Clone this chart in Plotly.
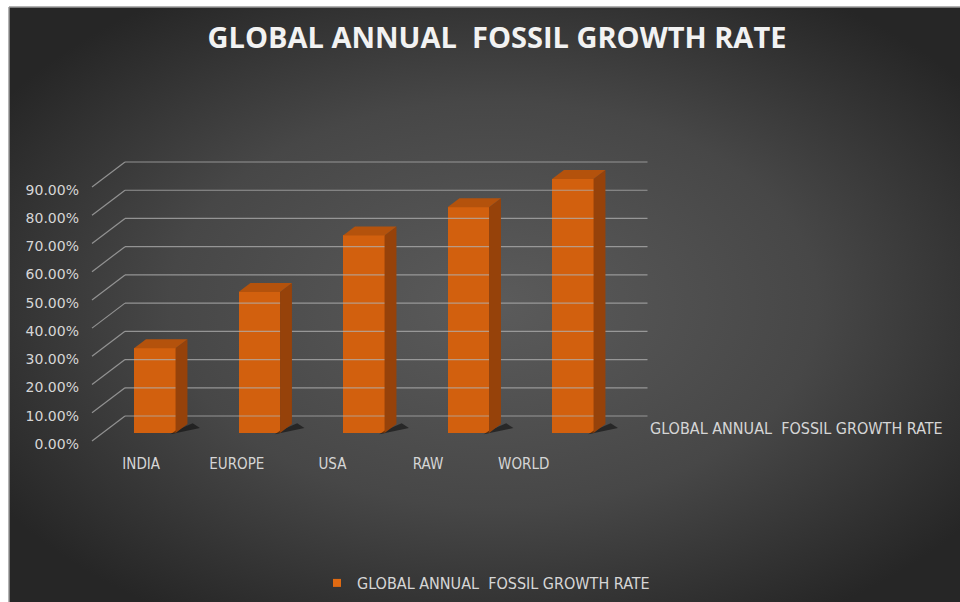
import base64
import plotly.graph_objects as go

# ---- data -------------------------------------------------------------
categories = ["INDIA", "EUROPE", "USA", "RAW", "WORLD"]
growth_pct = [30, 50, 70, 80, 90]
series_name = "GLOBAL ANNUAL  FOSSIL GROWTH RATE"
tick_values = [0, 10, 20, 30, 40, 50, 60, 70, 80, 90]
tick_labels = [f"{v:.2f}%" for v in tick_values]

# ---- page geometry (pixels) ------------------------------------------
W, H = 960, 602
L, R, T, B = 80, 660, 150, 450          # plot area
X0_PX, X_SCALE = 125, 104.5             # back wall left edge, px per category
Y0_PX, Y_SCALE = 416, 2.822             # back wall 0 %, px per percent

# oblique "3-D" offsets: moving from the back wall to the front plane
DX = 33 / X_SCALE                        # category units
DY = 25 / Y_SCALE                        # percent units
D_FRONT, D_DEPTH = 0.32, 0.36            # bar front depth and bar thickness
BAR_W = 41.5 / X_SCALE
LABEL_DROP = 1.0                         # tick labels sit a little below the line ends

x_range = [(L - X0_PX) / X_SCALE, (R - X0_PX) / X_SCALE]
y_range = [-(B - Y0_PX) / Y_SCALE, (Y0_PX - T) / Y_SCALE]


def px_to_paper_x(px):
    return (px - L) / (R - L)


def px_to_paper_y(py):
    return (B - py) / (B - T)


C_FRONT = "#d2600e"
C_TOP = "#b4520c"
C_SIDE = "#96420a"
C_GRID = "rgba(175,175,175,0.75)"
C_TEXT = "#d6d6d6"
FONT = "DejaVu Sans Condensed"

fig = go.Figure()

# back wall gridlines and the receding lines on the left side
n_cat = len(categories)
for v in tick_values:
    fig.add_trace(go.Scatter(x=[0, n_cat], y=[v, v], mode="lines",
                             line=dict(color=C_GRID, width=1.2),
                             hoverinfo="skip", showlegend=False))
    fig.add_trace(go.Scatter(x=[-DX, 0], y=[v - DY, v], mode="lines",
                             line=dict(color=C_GRID, width=1.2),
                             hoverinfo="skip", showlegend=False))

shift_f = (1 - D_FRONT)
for i, v in enumerate(growth_pct):
    xc = i + 0.5 - shift_f * DX
    xl, xr = xc - BAR_W / 2, xc + BAR_W / 2
    yb = -shift_f * DY
    yt = v - shift_f * DY
    ddx, ddy = D_DEPTH * DX, D_DEPTH * DY
    # floor shadow
    fig.add_trace(go.Scatter(
        x=[xr - 0.05, xr + ddx + 0.12, xr + ddx + 0.05, xr],
        y=[yb - 0.4, yb + ddy * 0.55, yb + ddy + 0.3, yb + 0.8],
        fill="toself", mode="lines", line=dict(width=0),
        fillcolor="rgba(10,10,10,0.55)", hoverinfo="skip", showlegend=False))
    # right side face
    fig.add_trace(go.Scatter(
        x=[xr, xr, xr + ddx, xr + ddx, xr],
        y=[yb, yt, yt + ddy, yb + ddy, yb],
        fill="toself", mode="lines", line=dict(width=0),
        fillcolor=C_SIDE, hoverinfo="skip", showlegend=False))
    # top face
    fig.add_trace(go.Scatter(
        x=[xl, xr, xr + ddx, xl + ddx, xl],
        y=[yt, yt, yt + ddy, yt + ddy, yt],
        fill="toself", mode="lines", line=dict(width=0),
        fillcolor=C_TOP, hoverinfo="skip", showlegend=False))

# front faces of the columns
fig.add_trace(go.Bar(
    x=[i + 0.5 - shift_f * DX for i in range(n_cat)],
    y=growth_pct,
    base=[-shift_f * DY] * n_cat,
    width=BAR_W,
    marker=dict(color=C_FRONT, line=dict(width=0)),
    name=series_name,
    showlegend=False,
))

# legend key: small orange square
fig.add_trace(go.Scatter(x=[None], y=[None], mode="markers", name=series_name,
                         marker=dict(symbol="square", size=8, color="#e06a12"),
                         showlegend=True))

# front-plane percentage axis (shifted by the depth offset)
fig.add_trace(go.Scatter(x=[None], y=[None], yaxis="y2", showlegend=False,
                         hoverinfo="skip"))

# category labels sit along the front edge of the floor
LABEL_PITCH, LABEL_OFFSET = 0.915, 0.155
label_pos = [LABEL_OFFSET + i * LABEL_PITCH for i in range(n_cat)]

# background: white frame with a dark radial gradient panel
svg = f"""<svg xmlns='http://www.w3.org/2000/svg' width='{W}' height='{H}' viewBox='0 0 {W} {H}'>
<defs><radialGradient id='g' cx='0.51' cy='0.5' r='0.62' gradientUnits='objectBoundingBox'>
<stop offset='0' stop-color='#5b5b5b'/><stop offset='0.55' stop-color='#474747'/>
<stop offset='1' stop-color='#262626'/></radialGradient></defs>
<rect width='{W}' height='{H}' fill='#ffffff'/>
<rect x='9' y='7' width='{W - 9}' height='{H - 7}' fill='url(#g)'/>
<line x1='9' y1='7' x2='{W}' y2='7' stroke='#9a9a9a' stroke-width='1.5'/>
<line x1='9' y1='7' x2='9' y2='{H}' stroke='#9a9a9a' stroke-width='1.5'/>
</svg>"""
bg_src = "data:image/svg+xml;base64," + base64.b64encode(svg.encode()).decode()

fig.update_layout(
    width=W, height=H,
    margin=dict(l=L, r=W - R, t=T, b=H - B, pad=0, autoexpand=False),
    paper_bgcolor="#262626",
    plot_bgcolor="rgba(0,0,0,0)",
    images=[dict(source=bg_src, xref="paper", yref="paper",
                 x=px_to_paper_x(0), y=px_to_paper_y(0),
                 sizex=px_to_paper_x(W) - px_to_paper_x(0),
                 sizey=px_to_paper_y(0) - px_to_paper_y(H),
                 xanchor="left", yanchor="top", sizing="stretch",
                 layer="below")],
    title=dict(text="<b>GLOBAL ANNUAL  FOSSIL GROWTH RATE</b>",
               x=497 / W, y=1 - 38 / H, xref="container", yref="container",
               xanchor="center", yanchor="middle",
               font=dict(family="Open Sans", size=29, color="#f2f2f2")),
    xaxis=dict(range=x_range, showgrid=False, zeroline=False, showline=False,
               tickmode="array", tickvals=label_pos, ticktext=categories,
               ticks="", ticklabelstandoff=3, automargin=False,
               tickfont=dict(family=FONT, size=15, color=C_TEXT),
               fixedrange=True),
    yaxis=dict(range=y_range, showgrid=False, zeroline=False, showline=False,
               showticklabels=False, automargin=False, fixedrange=True),
    yaxis2=dict(range=[y_range[0] + DY + LABEL_DROP, y_range[1] + DY + LABEL_DROP],
                overlaying="y", side="left", anchor="x", showgrid=False,
                zeroline=False, showline=False, tickmode="array",
                tickvals=tick_values, ticktext=tick_labels, ticks="",
                automargin=False,
                tickfont=dict(family="DejaVu Sans", size=14, color=C_TEXT),
                fixedrange=True),
    legend=dict(x=486 / W, y=1 - 583 / H, xref="container", yref="container",
                xanchor="center", yanchor="middle", orientation="h",
                bgcolor="rgba(0,0,0,0)", itemwidth=30,
                font=dict(family=FONT, size=16, color=C_TEXT)),
    bargap=0,
    showlegend=True,
    annotations=[dict(text=series_name, xref="paper", yref="paper",
                      x=px_to_paper_x(648), y=px_to_paper_y(428),
                      xanchor="left", yanchor="middle", showarrow=False,
                      font=dict(family=FONT, size=16, color=C_TEXT))],
)

fig.write_html(
    "out.html",
    config={"displayModeBar": False},
    post_script="document.body.style.margin='0';document.body.style.overflow='hidden';",
)
